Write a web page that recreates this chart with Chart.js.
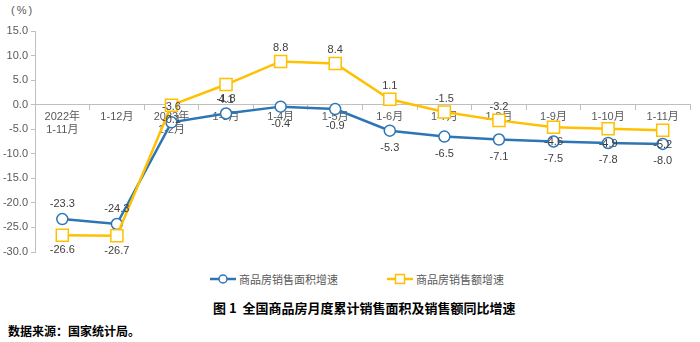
<!DOCTYPE html>
<html>
<head>
<meta charset="utf-8">
<script src="https://cdn.jsdelivr.net/npm/chart.js@4/dist/chart.umd.min.js"></script>
<style>
  body { margin: 0; background: #fff; width: 700px; height: 342px; position: relative; overflow: hidden;
         font-family: "Liberation Sans", "Noto Sans CJK SC", sans-serif; }
  #wrap { position: absolute; left: 0; top: 0; width: 700px; height: 262px; }
  .unit { position: absolute; left: 11px; top: 4px; font-size: 11px; color: #595959; letter-spacing: 2px; }
  .leg { position: absolute; top: 271px; font-size: 11px; color: #595959; font-family: "Noto Sans CJK SC", sans-serif;
         display: flex; align-items: center; }
  .leg svg { margin-right: 3px; }
  .title { position: absolute; left: 213px; top: 298px; font-size: 13px; font-weight: bold; color: #000;
           font-family: "Noto Sans CJK SC", sans-serif; }
  .src { position: absolute; left: 8px; top: 322px; font-size: 12px; font-weight: bold; color: #000;
         font-family: "Noto Sans CJK SC", sans-serif; }
</style>
</head>
<body>
<div class="unit">(%)</div>
<div id="wrap"><canvas id="chart"></canvas></div>
<div class="leg" style="left:210px">
  <svg width="26" height="12"><line x1="0" y1="6" x2="26" y2="6" stroke="#2E75B6" stroke-width="2.5"/><circle cx="13" cy="6" r="4" fill="#fff" stroke="#2E75B6" stroke-width="1.5"/></svg>
  <span>商品房销售面积增速</span>
</div>
<div class="leg" style="left:387px">
  <svg width="26" height="12"><line x1="0" y1="6" x2="26" y2="6" stroke="#FFC000" stroke-width="2.5"/><rect x="8.5" y="1.5" width="9" height="9" fill="#fff" stroke="#FFC000" stroke-width="1.5"/></svg>
  <span>商品房销售额增速</span>
</div>
<div class="title">图 1&nbsp; 全国商品房月度累计销售面积及销售额同比增速</div>
<div class="src">数据来源：国家统计局。</div>

<script>
  // 月份（2022年1-11月 至 2023年1-11月）
  const months = [['2022年', '1-11月'], '1-12月', ['2023年', '1-2月'], '1-3月', '1-4月', '1-5月',
                  '1-6月', '1-7月', '1-8月', '1-9月', '1-10月', '1-11月'];
  // 商品房销售面积增速 (%)
  const areaGrowth = [-23.3, -24.3, -3.6, -1.8, -0.4, -0.9, -5.3, -6.5, -7.1, -7.5, -7.8, -8.0];
  // 商品房销售额增速 (%)
  const salesGrowth = [-26.6, -26.7, -0.1, 4.1, 8.8, 8.4, 1.1, -1.5, -3.2, -4.6, -4.9, -5.2];
  const yTicks = [15, 10, 5, 0, -5, -10, -15, -20, -25, -30];

  const BLUE = '#2E75B6';
  const YELLOW = '#FFC000';

  // label above (a) or below (b) the point
  const areaLabelPos = ['a', 'a', 'a', 'a', 'b', 'b', 'b', 'b', 'b', 'b', 'b', 'b'];
  const salesLabelPos = ['b', 'b', 'b', 'b', 'a', 'a', 'a', 'a', 'a', 'b', 'b', 'b'];

  const pointLabels = {
    id: 'pointLabels',
    afterDatasetsDraw(chart) {
      const ctx = chart.ctx;
      ctx.save();
      ctx.font = '11px "Liberation Sans"';
      ctx.fillStyle = '#404040';
      ctx.textAlign = 'center';
      ctx.textBaseline = 'middle';
      chart.data.datasets.forEach((ds, i) => {
        chart.getDatasetMeta(i).data.forEach((pt, j) => {
          const dy = ds.labelPos[j] === 'a' ? -ds.labelGap : ds.labelGap + 2;
          ctx.fillText(ds.data[j].toFixed(1), pt.x, pt.y + dy);
        });
      });
      ctx.restore();
    }
  };

  new Chart(document.getElementById('chart'), {
    type: 'line',
    data: {
      labels: months,
      datasets: [
        {
          label: '商品房销售面积增速',
          data: areaGrowth,
          labelPos: areaLabelPos,
          labelGap: 15,
          borderColor: BLUE,
          borderWidth: 2.5,
          pointStyle: 'circle',
          pointRadius: 5.5,
          pointBorderWidth: 1.5,
          pointBackgroundColor: '#fff',
          pointBorderColor: BLUE,
          order: 2
        },
        {
          label: '商品房销售额增速',
          data: salesGrowth,
          labelPos: salesLabelPos,
          labelGap: 13,
          borderColor: YELLOW,
          borderWidth: 2.5,
          pointStyle: 'rect',
          pointRadius: 8.5,
          pointBorderWidth: 1.5,
          pointBackgroundColor: '#fff',
          pointBorderColor: YELLOW,
          order: 1
        }
      ]
    },
    options: {
      responsive: true,
      maintainAspectRatio: false,
      animation: false,
      layout: { padding: { top: 31, right: 7, bottom: 9, left: 0 } },
      plugins: {
        legend: { display: false },
        tooltip: { enabled: false }
      },
      scales: {
        x: {
          position: { y: 0 },
          offset: true,
          grid: { drawOnChartArea: false, offset: true, tickLength: 5, color: '#BFBFBF' },
          border: { color: '#BFBFBF' },
          ticks: { font: { size: 11, family: '"Liberation Sans", "Noto Sans CJK SC"' }, color: '#595959',
                   maxRotation: 0, autoSkip: false, padding: 1 }
        },
        y: {
          min: -30,
          max: 15,
          afterFit(scale) { scale.width = 35; },
          afterBuildTicks(scale) { scale.ticks = yTicks.map(v => ({ value: v })); },
          grid: { drawOnChartArea: false, tickLength: 4, color: '#BFBFBF' },
          border: { color: '#BFBFBF' },
          ticks: { font: { size: 11, family: '"Liberation Sans"' }, color: '#595959',
                   callback: v => v.toFixed(1) }
        }
      }
    },
    plugins: [pointLabels]
  });
</script>
</body>
</html>
